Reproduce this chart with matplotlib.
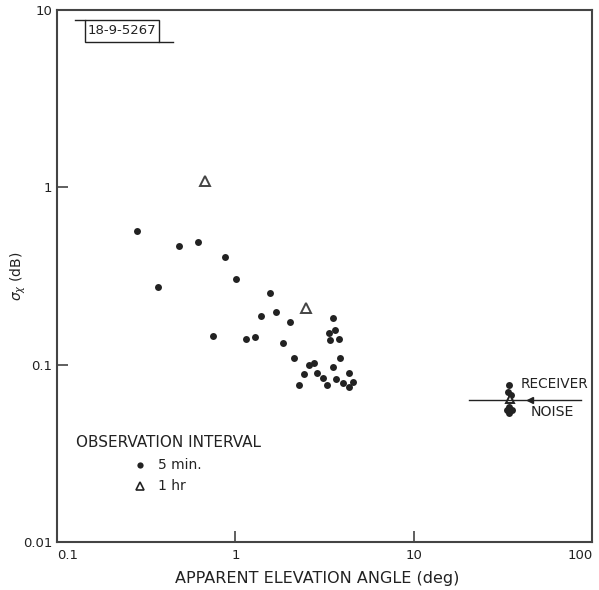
import matplotlib
matplotlib.use("Agg")
import matplotlib.pyplot as plt
from matplotlib.patches import Rectangle
import numpy as np

## data (elevation angle in deg, sigma_chi in dB)
angle_5min = [0.281, 0.368, 0.481, 0.620, 0.877, 1.006, 0.745, 1.14, 1.28, 1.39,
              1.56, 1.69, 2.02, 1.84, 2.14, 2.42, 2.28, 2.59, 2.77, 2.87,
              3.08, 3.24, 3.52, 3.34, 3.62, 3.38, 3.79, 3.85, 3.52, 3.66,
              4.32, 4.02, 4.31, 4.56]
sigma_5min = [0.569, 0.275, 0.469, 0.491, 0.406, 0.304, 0.146, 0.139, 0.143, 0.188,
              0.252, 0.197, 0.174, 0.132, 0.109, 0.0881, 0.0767, 0.0991, 0.102, 0.090,
              0.0843, 0.0767, 0.183, 0.151, 0.157, 0.137, 0.139, 0.109, 0.0964, 0.0835,
              0.0895, 0.0785, 0.0745, 0.0801]

angle_1hr = [0.671, 2.48]
sigma_1hr = [1.08, 0.209]

## receiver noise points near 34 deg
angle_noise_5min = [34.2, 33.8, 34.8, 33.4, 35.4, 34.3, 34.3]
sigma_noise_5min = [0.0770, 0.0703, 0.0670, 0.0556, 0.0556, 0.0532, 0.0580]
angle_noise_1hr = [34.4]
sigma_noise_1hr = [0.0637]

noise_level = 0.0631
noise_line_x = [20.3, 86.3]

fig = plt.figure(figsize=(5.99, 5.90), dpi=100)
ax = fig.add_axes([0.0952, 0.0814, 0.8938, 0.9016])

ink = "#222222"
ax.plot(angle_5min, sigma_5min, "o", color=ink, markersize=5, markeredgewidth=0)
ax.plot(angle_noise_5min, sigma_noise_5min, "o", color=ink, markersize=5, markeredgewidth=0)
ax.plot(angle_1hr, sigma_1hr, "^", markerfacecolor="white", markeredgecolor="#444444",
        markersize=7, markeredgewidth=1.4)
ax.plot(angle_noise_1hr, sigma_noise_1hr, "^", markerfacecolor="white", markeredgecolor=ink,
        markersize=6, markeredgewidth=1.4)

# receiver noise line with arrow
ax.plot(noise_line_x, [noise_level, noise_level], color=ink, linewidth=1.0)
ax.plot([44.7], [noise_level], "<", color=ink, markersize=5)
ax.text(39.7, 0.0775, "RECEIVER", fontsize=9.8, color=ink, va="center", ha="left")
ax.text(45.2, 0.0543, "NOISE", fontsize=10.2, color=ink, va="center", ha="left")

ax.set_xscale("log")
ax.set_yscale("log")
ax.set_xlim(0.1, 100)
ax.set_ylim(0.01, 10)

ax.set_xticks([0.1, 1, 10, 100])
ax.set_xticklabels(["0.1", "1", "10", "100"])
ax.set_yticks([0.01, 0.1, 1, 10])
ax.set_yticklabels(["0.01", "0.1", "1", "10"])
ax.minorticks_off()
ax.tick_params(direction="in", length=8, width=1.2, color="#444444",
               labelsize=9.5, labelcolor=ink)
ax.tick_params(axis="x", pad=5)
xl = ax.get_xticklabels()
xl[0].set_horizontalalignment("left")
xl[-1].set_horizontalalignment("right")

for s in ax.spines.values():
    s.set_linewidth(1.5)
    s.set_color("#444444")

ax.set_xlabel("APPARENT ELEVATION ANGLE (deg)", fontsize=11.5, color=ink)
ax.xaxis.set_label_coords(0.4855, -0.055)
ax.set_ylabel(r"$\sigma_\chi$ (dB)", fontsize=10, color=ink)
ax.yaxis.set_label_coords(-0.054, 0.499)

# legend drawn by hand, like the original figure
ax.text(0.128, 0.0363, "OBSERVATION INTERVAL", fontsize=11, color=ink, va="center")
ax.plot([0.292], [0.0272], "o", color=ink, markersize=4.5, markeredgewidth=0)
ax.text(0.368, 0.0272, "5 min.", fontsize=10, color=ink, va="center")
ax.plot([0.292], [0.0207], "^", markerfacecolor="white", markeredgecolor=ink,
        markersize=6, markeredgewidth=1.2)
ax.text(0.368, 0.0207, "1 hr", fontsize=10, color=ink, va="center")

# figure id label in the top left corner
W, H = 599, 590
fig.add_artist(Rectangle((85 / W, 1 - 42 / H), 74 / W, 22 / H, transform=fig.transFigure,
                         facecolor="white", edgecolor=ink, linewidth=1.0))
fig.text(122 / W, 1 - 31 / H, "18-9-5267", fontsize=9.5, color=ink, va="center",
         ha="center")
fig.add_artist(plt.Line2D([75 / W, 85 / W], [1 - 20 / H, 1 - 20 / H],
                          color=ink, linewidth=1.0))
fig.add_artist(plt.Line2D([159 / W, 173 / W], [1 - 42 / H, 1 - 42 / H],
                          color=ink, linewidth=1.0))

fig.savefig("out.png", dpi=100)
